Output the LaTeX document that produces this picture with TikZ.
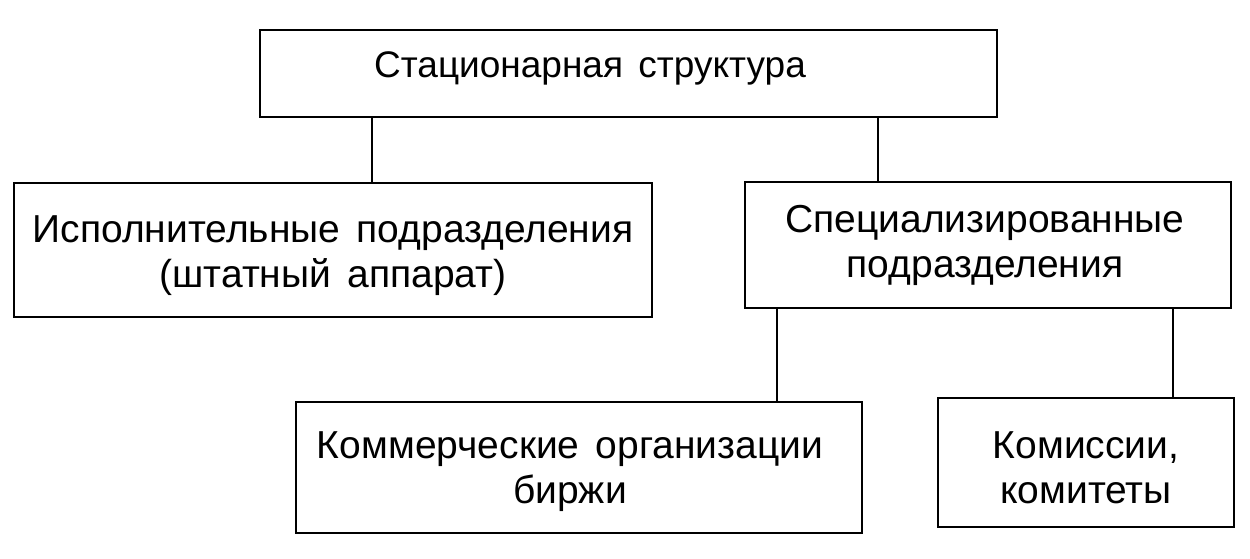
\documentclass[tikz,border=0pt]{standalone}
\usepackage{fontspec}
\setmainfont{Liberation Sans}[WordSpace=1.5]
\begin{document}
\begin{tikzpicture}[x=1pt,y=-1pt,
  box/.style={draw=black, line width=2.5pt, rectangle, inner sep=0pt},
  lbl/.style={align=center, font=\fontsize{39}{45}\selectfont, inner sep=0pt},
  link/.style={draw=black, line width=2.5pt}]
\useasboundingbox (0,0) rectangle (1250,559);
\node[box, minimum width=737pt, minimum height=87pt] (top) at (628.5,73.5) {};
\node[lbl, font=\fontsize{37}{45}\selectfont] (toplbl) at (590,68) {Стационарная структура};
\node[box, minimum width=638pt, minimum height=134pt] (left) at (333,250) {};
\node[lbl] (leftlbl) at (333,256) {Исполнительные подразделения\\(штатный аппарат)};
\node[box, minimum width=486pt, minimum height=126pt] (right) at (988,245) {};
\node[lbl] (rightlbl) at (985,245) {Специализированные\\подразделения};
\node[box, minimum width=566pt, minimum height=131pt] (bl) at (579,467.5) {};
\node[lbl] (bllbl) at (570,472) {Коммерческие организации\\биржи};
\node[box, minimum width=296pt, minimum height=129pt] (br) at (1086,462.5) {};
\node[lbl] (brlbl) at (1086,468) {Комиссии,\\комитеты};
\draw[link] (top.south -| 372,0) -- (left.north -| 372,0);
\draw[link] (top.south -| 878,0) -- (right.north -| 878,0);
\draw[link] (right.south -| 777,0) -- (bl.north -| 777,0);
\draw[link] (right.south -| 1173,0) -- (br.north -| 1173,0);
\end{tikzpicture}
\end{document}
